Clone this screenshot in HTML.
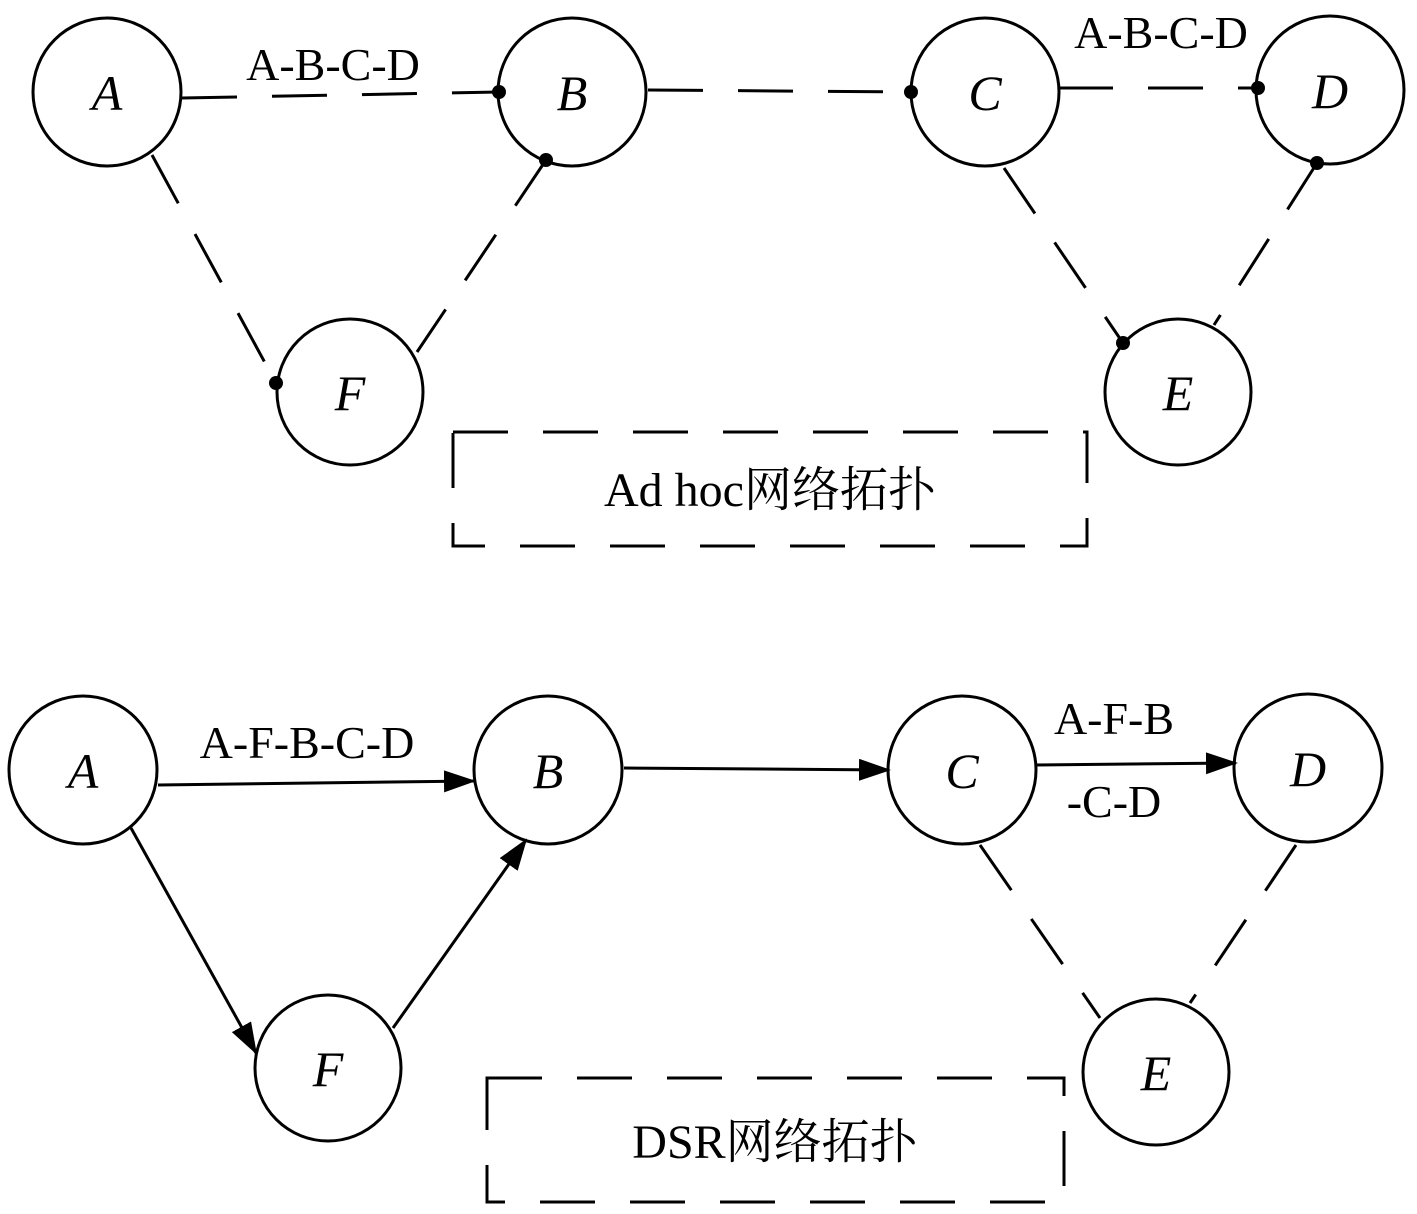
<!DOCTYPE html>
<html><head><meta charset="utf-8"><style>
html,body{margin:0;padding:0;background:#fff;}
svg{display:block;}
.n{font-family:"Liberation Serif",serif;font-style:italic;font-size:50px;}
.l{font-family:"Liberation Serif",serif;font-size:46px;}
.t{font-family:"Liberation Serif","Noto Serif CJK SC",serif;font-size:48px;}
</style></head><body>
<svg width="1417" height="1214" viewBox="0 0 1417 1214" xmlns="http://www.w3.org/2000/svg">
<defs><marker id="ar" markerWidth="10" markerHeight="8" refX="9" refY="4" orient="auto" markerUnits="userSpaceOnUse" viewBox="0 0 10 8"><path d="M0,0L10,4L0,8z" fill="#000"/></marker>
<marker id="ar2" markerWidth="32" markerHeight="22" refX="30" refY="11" orient="auto" markerUnits="userSpaceOnUse"><path d="M0,0L32,11L0,22z" fill="#000"/></marker></defs>
<g fill="none" stroke="#000" stroke-width="3">
<circle cx="107" cy="92" r="74"/><circle cx="572" cy="92" r="74"/><circle cx="985" cy="92" r="74"/><circle cx="1330" cy="90" r="74"/>
<circle cx="350" cy="392" r="73"/><circle cx="1178" cy="392" r="73"/>
<circle cx="83" cy="770" r="74"/><circle cx="548" cy="770" r="74"/><circle cx="962" cy="770" r="74"/><circle cx="1308" cy="768" r="74"/>
<circle cx="328" cy="1068" r="73"/><circle cx="1156" cy="1072" r="73"/>
<g stroke-dasharray="55,35">
<line x1="182" y1="98" x2="499" y2="92"/><line x1="648" y1="90" x2="911" y2="92"/><line x1="1058" y1="88" x2="1258" y2="88"/>
<line x1="152" y1="155" x2="276" y2="383"/><line x1="546" y1="160" x2="417" y2="352"/>
<line x1="1004" y1="168" x2="1123" y2="343"/><line x1="1317" y1="163" x2="1214" y2="325"/>
<line x1="980" y1="845" x2="1100" y2="1018"/><line x1="1296" y1="845" x2="1190" y2="1003"/>
<rect x="453" y="432" width="634" height="114"/><rect x="487" y="1078" width="577" height="124"/>
</g>
<line x1="158" y1="785" x2="474" y2="781" marker-end="url(#ar2)"/>
<line x1="624" y1="768" x2="889" y2="770" marker-end="url(#ar2)"/>
<line x1="1036" y1="765" x2="1236" y2="763" marker-end="url(#ar2)"/>
<line x1="131" y1="828" x2="256" y2="1053" marker-end="url(#ar2)"/>
<line x1="393" y1="1028" x2="526" y2="840" marker-end="url(#ar2)"/>
</g>
<g fill="#000">
<circle cx="499" cy="92" r="7"/><circle cx="546" cy="160" r="7"/><circle cx="911" cy="92" r="7"/><circle cx="1258" cy="88" r="7"/><circle cx="1317" cy="163" r="7"/><circle cx="276" cy="383" r="7"/><circle cx="1123" cy="343" r="7"/>
</g>
<g text-anchor="middle">
<text class="n" x="107" y="110">A</text><text class="n" x="572" y="110">B</text><text class="n" x="985" y="110">C</text><text class="n" x="1330" y="108">D</text>
<text class="n" x="350" y="410">F</text><text class="n" x="1178" y="410">E</text>
<text class="n" x="83" y="788">A</text><text class="n" x="548" y="788">B</text><text class="n" x="962" y="788">C</text><text class="n" x="1308" y="786">D</text>
<text class="n" x="328" y="1086">F</text><text class="n" x="1156" y="1090">E</text>
<text class="l" x="333" y="80">A-B-C-D</text><text class="l" x="1161" y="48">A-B-C-D</text>
<text class="l" x="307" y="758">A-F-B-C-D</text><text class="l" x="1114" y="734">A-F-B</text><text class="l" x="1114" y="817">-C-D</text>
<text class="t" x="770" y="506">Ad hoc网络拓扑</text><text class="t" x="775" y="1158">DSR网络拓扑</text>
</g>
</svg>
</body></html>
